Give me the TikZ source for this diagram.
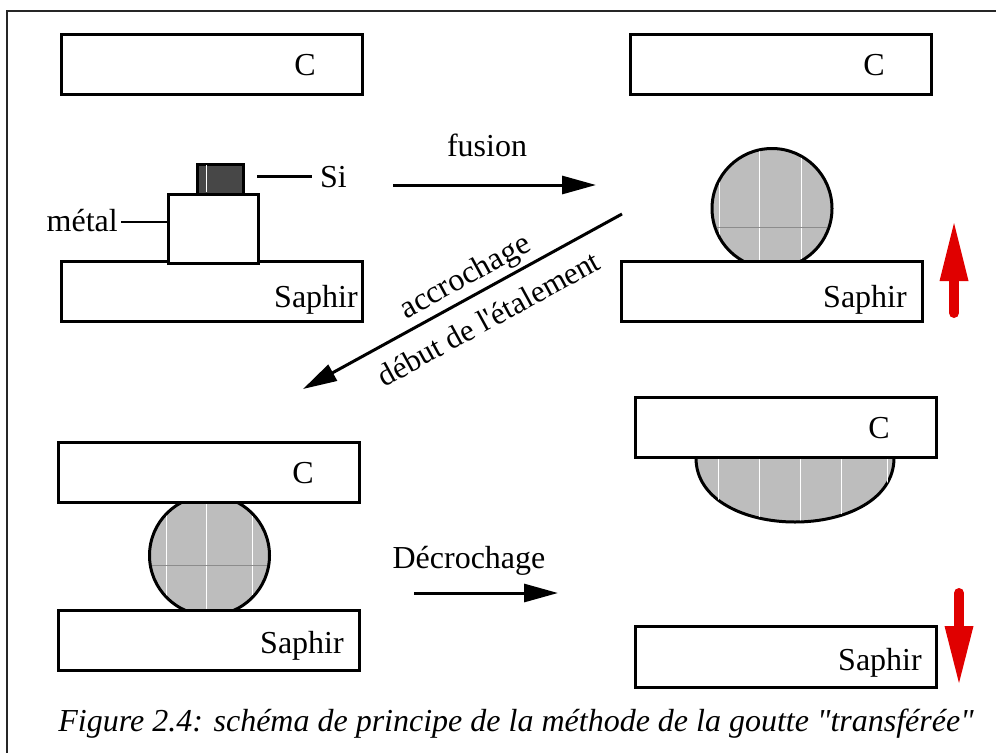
\documentclass[tikz,border=0pt]{standalone}
\usepackage{fontspec}
\setmainfont{Liberation Serif}[Ligatures=TeXOff]
\usetikzlibrary{arrows.meta}
\definecolor{redarrow}{RGB}{224,0,0}
\definecolor{dropfill}{gray}{0.74}
\tikzset{
  plate/.style={draw=black,line width=3pt,fill=white,rectangle,inner sep=0pt,minimum width=301pt,minimum height=60.5pt},
  tag/.style={inner sep=0pt,font=\fontsize{32}{36}\selectfont},
  frameline/.style={line width=2pt,black!85},
  blackarrow/.style={line width=3pt,-{Triangle[length=34pt,width=18pt]}},
  redshaft/.style={line width=10pt,redarrow,line cap=round},
  redhead/.style={fill=redarrow,draw=none},
  drop/.style={draw=black,line width=3pt,fill=dropfill},
  seamw/.style={white,line width=1pt},
  seamd/.style={black!45,line width=0.8pt},
  leader/.style={line width=2.5pt}
}
\begin{document}
\begin{tikzpicture}[x=1pt,y=-1pt]
\useasboundingbox (0,0) rectangle (996,753);
% frame
\coordinate (fc) at (7,11);
\coordinate (fr) at (996,11);
\coordinate (fb) at (7,753);
\draw[frameline] (fr) -- (fc) -- (fb);
% top-left
\node[plate] (c1) at (211.75,64.5) {};
\node[tag] (c1t) at (305,65) {C};
\node[plate] (s1) at (211.75,291.5) {};
\node[tag] (s1t) at (316,300) {Saphir};
\node[draw=black,line width=3pt,fill=black!72,rectangle,inner sep=0pt,minimum width=46pt,minimum height=30pt] (si) at (220.5,179) {};
\draw[white,line width=1pt] (206,165) -- (206,192);
\node[draw=black,line width=3pt,fill=white,rectangle,inner sep=0pt,minimum width=90pt,minimum height=69.5pt] (metal) at (213.5,229) {};
\node[tag,anchor=west] (sit) at (320,177) {Si};
\node[tag,anchor=east] (mt) at (118,221) {métal};
\coordinate (sil) at (257,176.5);
\coordinate (sir) at (312,176.5);
\coordinate (mel) at (121,222);
\draw[leader] (sil) -- (sir);
\draw[leader] (mel) -- (mel -| metal.west);
% top-right
\node[plate] (c2) at (780.75,64.5) {};
\node[tag] (c2t) at (874,65) {C};
\draw[drop] (772,208.5) circle [radius=60pt];
\begin{scope}
\clip (772,208.5) circle [radius=58.5pt];
\draw[seamw] (719,148) -- (719,268) (759,148) -- (759,268) (801,148) -- (801,268);
\draw[seamd] (712,227) -- (832,227);
\end{scope}
\node[plate] (s2) at (772.25,291.5) {};
\node[tag] (s2t) at (865,300) {Saphir};
\coordinate (r1a) at (954,313);
\coordinate (r1b) at (954,223);
\draw[redshaft] (r1a) -- (954,281);
\fill[redhead] (r1b) -- (968.5,281) -- (939.5,281) -- cycle;
% bottom-left
\draw[drop] (209.5,555.5) circle [radius=60pt];
\begin{scope}
\clip (209.5,555.5) circle [radius=58.5pt];
\draw[seamw] (166,495) -- (166,615) (206.5,495) -- (206.5,615) (252,495) -- (252,615);
\draw[seamd] (149,565) -- (270,565);
\end{scope}
\node[plate] (c3) at (208.75,472.5) {};
\node[tag] (c3t) at (303,473) {C};
\node[plate] (s3) at (208.75,640.5) {};
\node[tag] (s3t) at (302,646) {Saphir};
% bottom-right
\draw[drop] (696,458) .. controls (696,500) and (745,522) .. (795,522) .. controls (845,522) and (894,500) .. (894,458);
\begin{scope}
\clip (696,458) .. controls (696,500) and (745,520.5) .. (795,520.5) .. controls (845,520.5) and (894,500) .. (894,458) -- cycle;
\draw[seamw] (718,458) -- (718,522) (759,458) -- (759,522) (800,458) -- (800,522) (841,458) -- (841,522) (887,458) -- (887,522);
\end{scope}
\node[plate] (c4) at (785.75,427.5) {};
\node[tag] (c4t) at (879,428) {C};
\node[plate] (s4) at (785.75,657) {};
\node[tag] (s4t) at (880,663) {Saphir};
\coordinate (r2a) at (959,593);
\coordinate (r2b) at (959,683);
\draw[redshaft] (r2a) -- (959,626);
\fill[redhead] (r2b) -- (973.5,626) -- (944.5,626) -- cycle;
% process arrows
\coordinate (f1) at (393,185);
\coordinate (f2) at (596,185);
\draw[blackarrow] (f1) -- (f2);
\node[tag] (ft) at (487,145) {fusion};
\coordinate (d1) at (622,214);
\coordinate (d2) at (303,389);
\draw[blackarrow] (d1) -- (d2);
\node[tag,rotate=28.7] (at) at (466,278) {accrochage};
\node[tag,rotate=28.7,font=\fontsize{31}{36}\selectfont] (dt) at (488.5,318.5) {début de l'étalement};
\coordinate (e1) at (414,593);
\coordinate (e2) at (558,593);
\draw[blackarrow] (e1) -- (e2);
\node[tag] (et) at (469,561) {Décrochage};
\node[tag,font=\fontsize{32}{36}\selectfont\itshape] (cap) at (516,724) {Figure 2.4: schéma de principe de la méthode de la goutte "transférée"};
\end{tikzpicture}
\end{document}
